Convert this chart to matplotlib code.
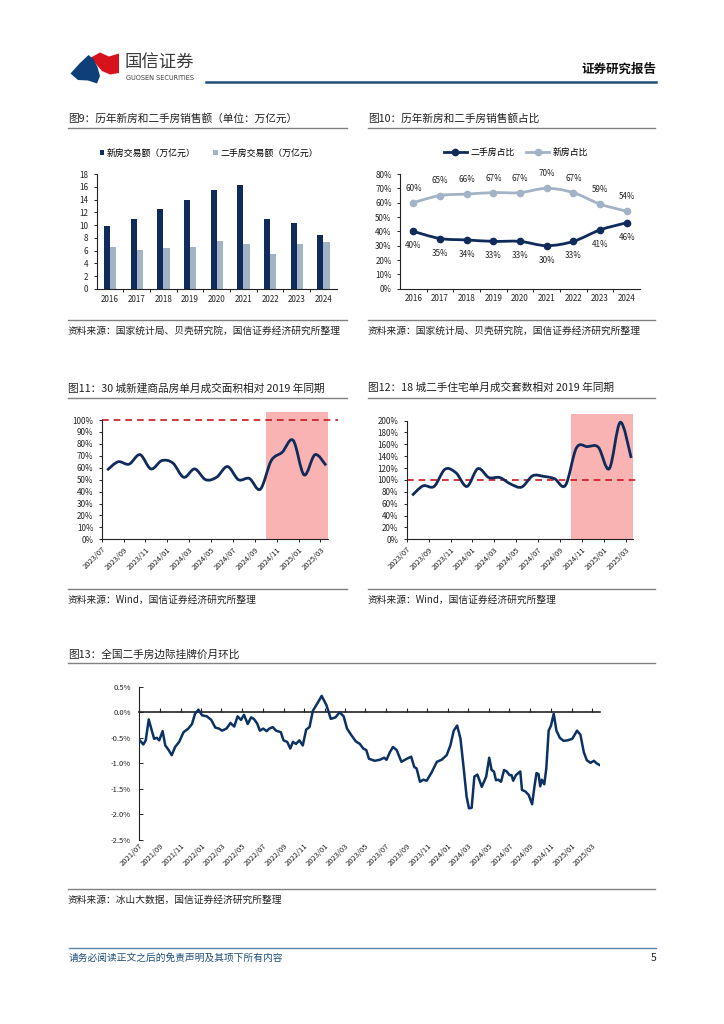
import numpy as np
import pandas as pd
import matplotlib
matplotlib.use('Agg')
import matplotlib.pyplot as plt
from matplotlib.path import Path
from matplotlib.patches import PathPatch, Polygon
from matplotlib.lines import Line2D
from matplotlib.ticker import FuncFormatter

plt.rcParams['font.family'] = ['Noto Sans CJK SC', 'DejaVu Sans']
plt.rcParams['axes.unicode_minus'] = False

W, H = 724, 1024

# ---------------- data ----------------
years = ['2016', '2017', '2018', '2019', '2020', '2021', '2022', '2023', '2024']
new_sales = [9.9, 11.0, 12.6, 13.95, 15.5, 16.3, 11.0, 10.35, 8.5]
second_sales = [6.55, 6.1, 6.45, 6.6, 7.55, 7.1, 5.5, 7.1, 7.3]

second_share = [40, 35, 34, 33, 33, 30, 33, 41, 46]
new_share = [60, 65, 66, 67, 67, 70, 67, 59, 54]

months = ['2023/07', '2023/08', '2023/09', '2023/10', '2023/11', '2023/12',
          '2024/01', '2024/02', '2024/03', '2024/04', '2024/05', '2024/06',
          '2024/07', '2024/08', '2024/09', '2024/10', '2024/11', '2024/12',
          '2025/01', '2025/02', '2025/03']
new_area_vs2019 = [58, 65, 63, 71, 59, 66, 64, 52, 59, 50, 52, 61,
                   50, 51, 42, 66, 73, 83, 54, 71, 62]
second_deals_vs2019 = [74, 90, 89, 118, 112, 89, 119, 104, 104, 93, 88, 107,
                       106, 102, 91, 154, 156, 155, 119, 197, 137]
shade_from = '2024/10'

listing_dates = ['2021-07-01', '2021-07-13', '2021-07-20', '2021-07-29', '2021-08-07', '2021-08-14',
                 '2021-08-22', '2021-08-29', '2021-09-08', '2021-09-16', '2021-09-25', '2021-10-05',
                 '2021-10-15', '2021-10-27', '2021-11-09', '2021-11-23', '2021-12-04', '2021-12-13',
                 '2021-12-23', '2022-01-03', '2022-01-17', '2022-01-30', '2022-02-11', '2022-02-22',
                 '2022-03-03', '2022-03-16', '2022-03-28', '2022-04-08', '2022-04-18', '2022-04-28',
                 '2022-05-07', '2022-05-18', '2022-05-28', '2022-06-05', '2022-06-15', '2022-06-23',
                 '2022-07-03', '2022-07-13', '2022-07-21', '2022-07-31', '2022-08-10', '2022-08-24',
                 '2022-09-01', '2022-09-12', '2022-09-21', '2022-09-29', '2022-10-08', '2022-10-18',
                 '2022-10-28', '2022-11-07', '2022-11-17', '2022-11-27', '2022-12-09', '2022-12-23',
                 '2023-01-06', '2023-01-19', '2023-02-02', '2023-02-14', '2023-02-26', '2023-03-08',
                 '2023-03-21', '2023-04-03', '2023-04-15', '2023-04-25', '2023-05-04', '2023-05-12',
                 '2023-05-29', '2023-06-13', '2023-06-26', '2023-07-03', '2023-07-13', '2023-07-22',
                 '2023-08-02', '2023-08-16', '2023-09-01', '2023-09-14', '2023-09-23', '2023-09-30',
                 '2023-10-10', '2023-10-20', '2023-10-30', '2023-11-14', '2023-11-29', '2023-12-13',
                 '2023-12-28', '2024-01-08', '2024-01-18', '2024-01-28', '2024-02-07', '2024-02-16',
                 '2024-02-25', '2024-03-03', '2024-03-11', '2024-03-19', '2024-03-28', '2024-04-10',
                 '2024-04-23', '2024-05-02', '2024-05-09', '2024-05-16', '2024-05-22', '2024-05-29',
                 '2024-06-06', '2024-06-15', '2024-06-23', '2024-07-01', '2024-07-07', '2024-07-12',
                 '2024-07-20', '2024-08-02', '2024-08-07', '2024-08-17', '2024-08-27', '2024-09-06',
                 '2024-09-13', '2024-09-19', '2024-09-25', '2024-09-30', '2024-10-05', '2024-10-12',
                 '2024-10-18', '2024-10-25', '2024-11-01', '2024-11-09', '2024-11-17', '2024-11-27',
                 '2024-12-08', '2024-12-20', '2025-01-03', '2025-01-17', '2025-01-27', '2025-02-06',
                 '2025-02-15', '2025-02-26', '2025-03-08', '2025-03-16', '2025-03-24']
listing_mom = [-0.54, -0.63, -0.55, -0.14, -0.36, -0.52,
               -0.50, -0.55, -0.37, -0.65, -0.73, -0.84,
               -0.68, -0.58, -0.39, -0.32, -0.23, -0.03,
               0.05, -0.06, -0.08, -0.15, -0.30, -0.32,
               -0.36, -0.32, -0.21, -0.28, -0.08, -0.15,
               -0.05, -0.23, -0.10, -0.13, -0.22, -0.36,
               -0.32, -0.37, -0.32, -0.29, -0.36, -0.39,
               -0.55, -0.58, -0.71, -0.58, -0.62, -0.55,
               -0.65, -0.34, -0.29, 0.03, 0.16, 0.32,
               0.14, -0.13, -0.10, 0.00, -0.08, -0.32,
               -0.45, -0.57, -0.62, -0.71, -0.74, -0.91,
               -0.95, -0.93, -0.89, -0.93, -0.78, -0.68,
               -0.74, -0.97, -0.91, -0.87, -1.07, -1.10,
               -1.36, -1.32, -1.34, -1.17, -0.97, -0.93,
               -0.84, -0.65, -0.36, -0.26, -0.52, -1.07,
               -1.65, -1.88, -1.87, -1.26, -1.22, -1.46,
               -1.26, -0.89, -1.13, -1.16, -1.33, -1.32,
               -1.36, -1.13, -1.16, -1.23, -1.23, -1.34,
               -1.23, -1.16, -1.52, -1.55, -1.62, -1.80,
               -1.45, -1.19, -1.21, -1.45, -1.32, -1.41,
               -1.10, -0.36, -0.26, -0.03, -0.36, -0.50,
               -0.56, -0.55, -0.52, -0.36, -0.44, -0.78,
               -0.94, -0.99, -0.95, -1.00, -1.03]

# ---------------- styles ----------------
NAVY = '#0f2b5b'
LIGHT = '#a3b3c6'
LINE13 = '#0b3262'
PINK = '#f9b3b3'
RED = '#c8161d'
TXT = '#222222'
GREY = '#808080'


def rect(l, t, r, b):
    return [l / W, 1 - b / H, (r - l) / W, (b - t) / H]


def smooth_path(xs, ys):
    # Excel-style smoothed line: Catmull-Rom segments as cubic Beziers
    pts = np.column_stack([xs, ys]).astype(float)
    n = len(pts)
    verts = [pts[0]]
    codes = [Path.MOVETO]
    for i in range(n - 1):
        p0 = pts[i - 1] if i > 0 else pts[i]
        p1, p2 = pts[i], pts[i + 1]
        p3 = pts[i + 2] if i + 2 < n else pts[i + 1]
        verts += [p1 + (p2 - p0) / 6, p2 - (p3 - p1) / 6, p2]
        codes += [Path.CURVE4] * 3
    return Path(verts, codes)


def style_axes(ax):
    for s in ['top', 'right']:
        ax.spines[s].set_visible(False)
    for s in ['left', 'bottom']:
        ax.spines[s].set_color(TXT)
        ax.spines[s].set_linewidth(0.8)
    ax.set_facecolor('none')
    ax.tick_params(labelsize=5.8, colors=TXT, length=2.5, width=0.7)


fig = plt.figure(figsize=(W / 100, H / 100), dpi=100)
page = fig.add_axes([0, 0, 1, 1])
page.set_xlim(0, W)
page.set_ylim(H, 0)
page.axis('off')

# ---------------- header / footer ----------------
page.add_patch(Polygon([(91, 57.5), (100, 52.5), (109, 56.5), (119, 53.5), (119, 73),
                        (110, 74.5), (102, 71), (96, 64)], closed=True, color='#d7121c', lw=0))
page.add_patch(Polygon([(70.5, 73.5), (80, 63), (88.5, 55), (93.5, 59), (97.5, 67), (100, 76),
                        (97, 83.5), (88, 80.5), (78, 80)], closed=True, color='#0f3f78', lw=0))
page.text(124, 62.5, '国信证券', fontsize=12.5, color='#3a3a3a', va='center', ha='left')
page.text(126, 77.7, 'GUOSEN SECURITIES', fontsize=4.7, color='#3a3a3a', va='center', ha='left',
          family=['DejaVu Sans'])
page.plot([206, 656], [81.7, 81.7], color='#1f4e79', lw=1.8)
page.text(656, 69, '证券研究报告', fontsize=9, fontweight='bold', color='#111111', va='center', ha='right')

page.plot([69, 656], [948, 948], color='#5b84ad', lw=1)
page.text(69, 957.5, '请务必阅读正文之后的免责声明及其项下所有内容', fontsize=7, color='#1f4e79',
          va='center', ha='left', fontstyle='italic')
page.text(656, 958, '5', fontsize=7.5, color=TXT, va='center', ha='right')


def section(x0, x1, y_title, y_line, y_src_line, title, source):
    page.text(x0, y_title, title, fontsize=7.7, color=TXT, va='center', ha='left')
    page.plot([x0, x1], [y_line, y_line], color=GREY, lw=1)
    page.plot([x0, x1], [y_src_line, y_src_line], color=GREY, lw=1)
    page.text(x0, y_src_line + 10.5, source, fontsize=7, color=TXT, va='center', ha='left')


src_a = '资料来源：国家统计局、贝壳研究院，国信证券经济研究所整理'
src_b = '资料来源：Wind，国信证券经济研究所整理'
section(68, 347, 118, 128.3, 320, '图9：历年新房和二手房销售额（单位：万亿元）', src_a)
section(368, 655, 118, 128.3, 320, '图10：历年新房和二手房销售额占比', src_a)
section(68, 347, 388, 397.7, 589, '图11：30 城新建商品房单月成交面积相对 2019 年同期', src_b)
section(368, 655, 388, 397.7, 589, '图12：18 城二手住宅单月成交套数相对 2019 年同期', src_b)
section(68, 655, 655, 663.3, 889, '图13：全国二手房边际挂牌价月环比', '资料来源：冰山大数据，国信证券经济研究所整理')

# ---------------- chart 9 ----------------
ax9 = fig.add_axes(rect(96.7, 174, 336.7, 289))
style_axes(ax9)
x = np.arange(len(years))
bw = 0.23
b1 = ax9.bar(x - bw / 2, new_sales, bw, color=NAVY, label='新房交易额（万亿元）')
b2 = ax9.bar(x + bw / 2, second_sales, bw, color=LIGHT, label='二手房交易额（万亿元）')
ax9.set_xlim(-0.5, len(years) - 0.5)
ax9.set_ylim(0, 18)
ax9.set_yticks(np.arange(0, 19, 2))
ax9.set_xticks(x)
ax9.set_xticklabels(years)
ax9.set_xticks(x[:-1] + 0.5, minor=True)
ax9.tick_params(axis='x', which='major', length=0, pad=4)
ax9.tick_params(axis='x', which='minor', length=2.5, width=0.7, colors=TXT)
ax9.legend(handles=[b1, b2], loc='center', ncol=2, frameon=False, fontsize=6.4,
           bbox_to_anchor=(209 / W, 1 - 153 / H), bbox_transform=fig.transFigure,
           handlelength=0.5, handleheight=0.5, handletextpad=0.3, columnspacing=2.0)

# ---------------- chart 10 ----------------
ax10 = fig.add_axes(rect(400, 174, 640, 288.7))
style_axes(ax10)
ax10.add_patch(PathPatch(smooth_path(x, new_share), fill=False, edgecolor=LIGHT, lw=2))
ax10.add_patch(PathPatch(smooth_path(x, second_share), fill=False, edgecolor=NAVY, lw=2))
ax10.plot(x, new_share, 'o', color=LIGHT, ms=4.5)
ax10.plot(x, second_share, 'o', color=NAVY, ms=4.5)
for xi, v in zip(x, new_share):
    ax10.annotate(f'{v}%', (xi, v), xytext=(0, 10.5), textcoords='offset points',
                  ha='center', va='center', fontsize=5.8, color=TXT)
for xi, v in zip(x, second_share):
    ax10.annotate(f'{v}%', (xi, v), xytext=(0, -10.5), textcoords='offset points',
                  ha='center', va='center', fontsize=5.8, color=TXT)
ax10.set_xlim(-0.5, len(years) - 0.5)
ax10.set_ylim(0, 80)
ax10.set_yticks(np.arange(0, 81, 10))
ax10.yaxis.set_major_formatter(FuncFormatter(lambda v, p: f'{v:.0f}%'))
ax10.set_xticks(x)
ax10.set_xticklabels(years)
ax10.set_xticks(x[:-1] + 0.5, minor=True)
ax10.tick_params(axis='x', which='major', length=0, pad=4)
ax10.tick_params(axis='x', which='minor', length=2.5, width=0.7, colors=TXT)
h1 = Line2D([0], [0], color=NAVY, lw=2, marker='o', ms=4.5, label='二手房占比')
h2 = Line2D([0], [0], color=LIGHT, lw=2, marker='o', ms=4.5, label='新房占比')
ax10.legend(handles=[h1, h2], loc='center', ncol=2, frameon=False, fontsize=6.4,
            bbox_to_anchor=(516 / W, 1 - 152.7 / H), bbox_transform=fig.transFigure,
            handlelength=2.6, handletextpad=0.4, columnspacing=1.3)


# ---------------- charts 11 / 12 ----------------
def monthly_chart(box, values, ymax, ytop, ystep, xright):
    ax = fig.add_axes(rect(*box))
    style_axes(ax)
    xi = np.arange(len(months))
    s = months.index(shade_from)
    ax.axvspan(s - 0.5, len(months) - 0.85, color=PINK, lw=0, zorder=0)
    ax.axhline(100, color=RED, lw=1.2, ls=(0, (4, 3)), zorder=1)
    ax.add_patch(PathPatch(smooth_path(xi, values), fill=False, edgecolor=NAVY, lw=2, zorder=3))
    ax.set_xlim(-0.5, xright)
    ax.set_ylim(0, ytop)
    ax.spines['left'].set_bounds(0, ymax)
    ax.spines['bottom'].set_bounds(-0.5, len(months) - 0.8)
    ax.set_yticks(np.arange(0, ymax + 1, ystep))
    ax.yaxis.set_major_formatter(FuncFormatter(lambda v, p: f'{v:.0f}%'))
    ax.set_xticks(xi[::2] - 0.5)
    ax.set_xticklabels(months[::2], rotation=45, ha='right', va='top', rotation_mode='anchor', fontsize=5.5)
    ax.tick_params(axis='x', pad=2)
    return ax


ax11 = monthly_chart((101.7, 411.7, 338, 539.3), new_area_vs2019, 100, 107, 10, len(months) + 0.1)
ax12 = monthly_chart((406.7, 414, 636.7, 539.3), second_deals_vs2019, 200, 211, 20, len(months) - 0.5)

# ---------------- chart 13 ----------------
ax13 = fig.add_axes(rect(139.3, 686.7, 600, 840))
style_axes(ax13)
d13 = pd.to_datetime(listing_dates)
ax13.plot(d13, listing_mom, color=LINE13, lw=1.8, zorder=3)
ax13.set_xlim(pd.Timestamp('2021-07-01'), pd.Timestamp('2025-03-26'))
ax13.set_ylim(-2.5, 0.5)
ax13.set_yticks(np.arange(-2.5, 0.51, 0.5))
ax13.yaxis.set_major_formatter(FuncFormatter(lambda v, p: f'{v:.1f}%'))
ax13.tick_params(axis='y', direction='in', length=3, pad=6, labelsize=5.5)
ax13.spines['bottom'].set_position(('data', 0))
ax13.spines['bottom'].set_linewidth(1.2)
ticks13 = pd.date_range('2021-07-01', '2025-03-01', freq='2MS')
ax13.set_xticks(ticks13)
ax13.tick_params(axis='x', direction='in', length=3, width=0.8, labelbottom=False)
for t in ticks13:
    ax13.text(t, -0.012, t.strftime('%Y/%m'), transform=ax13.get_xaxis_transform(),
              rotation=45, ha='right', va='top', rotation_mode='anchor', fontsize=5.5, color=TXT)

fig.savefig('out.png', dpi=100)
